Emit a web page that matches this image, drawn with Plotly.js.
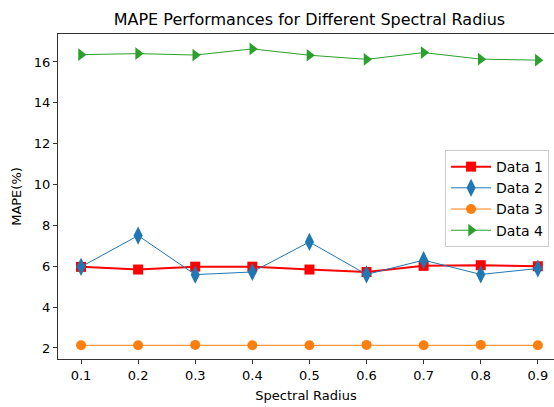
<!DOCTYPE html>
<html>
<head>
<meta charset="utf-8">
<script src="https://cdn.plot.ly/plotly-3.0.1.min.js"></script>
<style>html,body{margin:0;padding:0;background:#fff;}#chart{width:554px;height:407px;}</style>
</head>
<body>
<div id="chart"></div>
<script>
const spectralRadius = [0.1, 0.2, 0.3, 0.4, 0.5, 0.6, 0.7, 0.8, 0.9];
const tickLabels = ["0.1","0.2","0.3","0.4","0.5","0.6","0.7","0.8","0.9"];
const data1 = [5.97, 5.84, 5.98, 5.98, 5.84, 5.72, 6.02, 6.05, 6.00];
const data2 = [5.97, 7.50, 5.59, 5.72, 7.19, 5.60, 6.30, 5.60, 5.89];
const data3 = [2.13, 2.13, 2.15, 2.13, 2.13, 2.15, 2.13, 2.15, 2.13];
const data4 = [16.36, 16.41, 16.34, 16.64, 16.33, 16.13, 16.46, 16.14, 16.09];
const seriesNames = ["Data 1", "Data 2", "Data 3", "Data 4"];

const font = "DejaVu Sans, sans-serif";
const traces = [
  {x: spectralRadius, y: data1, name: seriesNames[0], mode: "lines+markers",
   line: {color: "#ff0000", width: 2}, marker: {symbol: "square", size: 10, color: "#ff0000"}},
  {x: spectralRadius, y: data2, name: seriesNames[1], mode: "lines+markers",
   line: {color: "#1f77b4", width: 1}, marker: {symbol: "diamond-tall", size: 13, color: "#1f77b4"}},
  {x: spectralRadius, y: data3, name: seriesNames[2], mode: "lines+markers",
   line: {color: "#ff7f0e", width: 1}, marker: {symbol: "circle", size: 10, color: "#ff7f0e"}},
  {x: spectralRadius, y: data4, name: seriesNames[3], mode: "lines+markers",
   line: {color: "#2ca02c", width: 1}, marker: {symbol: "triangle-right", size: 11, color: "#2ca02c"}}
];

const layout = {
  width: 554, height: 407,
  margin: {l: 58, r: 0, t: 34, b: 48},
  paper_bgcolor: "#fff", plot_bgcolor: "#fff",
  font: {family: font, size: 13, color: "#000"},
  title: {text: "MAPE Performances for Different Spectral Radius", font: {family: font, size: 16, color: "#000"},
          x: 0.507, xanchor: "center", xref: "paper", y: 1, yref: "paper", yanchor: "bottom", pad: {b: 9}},
  showlegend: true,
  legend: {x: 0.99, xanchor: "right", y: 0.643, yanchor: "top", bgcolor: "rgba(255,255,255,0.8)",
           bordercolor: "#cccccc", borderwidth: 1, font: {family: font, size: 14, color: "#000"},
           tracegroupgap: 0, itemwidth: 40},
  xaxis: {range: [0.0597, 0.9283], tickvals: spectralRadius, ticktext: tickLabels,
          showgrid: false, zeroline: false, showline: true, linecolor: "#333", linewidth: 1, mirror: true,
          ticks: "outside", ticklen: 4, tickcolor: "#333", tickfont: {family: font, size: 13, color: "#000"},
          title: {text: "Spectral Radius", font: {family: font, size: 13, color: "#000"}, standoff: 9}},
  yaxis: {range: [1.46, 17.37], tickvals: [2,4,6,8,10,12,14,16],
          showgrid: false, zeroline: false, showline: true, linecolor: "#333", linewidth: 1, mirror: false,
          ticks: "outside", ticklen: 4, tickcolor: "#333", tickfont: {family: font, size: 13, color: "#000"},
          title: {text: "MAPE(%)", font: {family: font, size: 13, color: "#000"}, standoff: 9}}
};

Plotly.newPlot("chart", traces, layout, {displayModeBar: false, staticPlot: true});
</script>
</body>
</html>
